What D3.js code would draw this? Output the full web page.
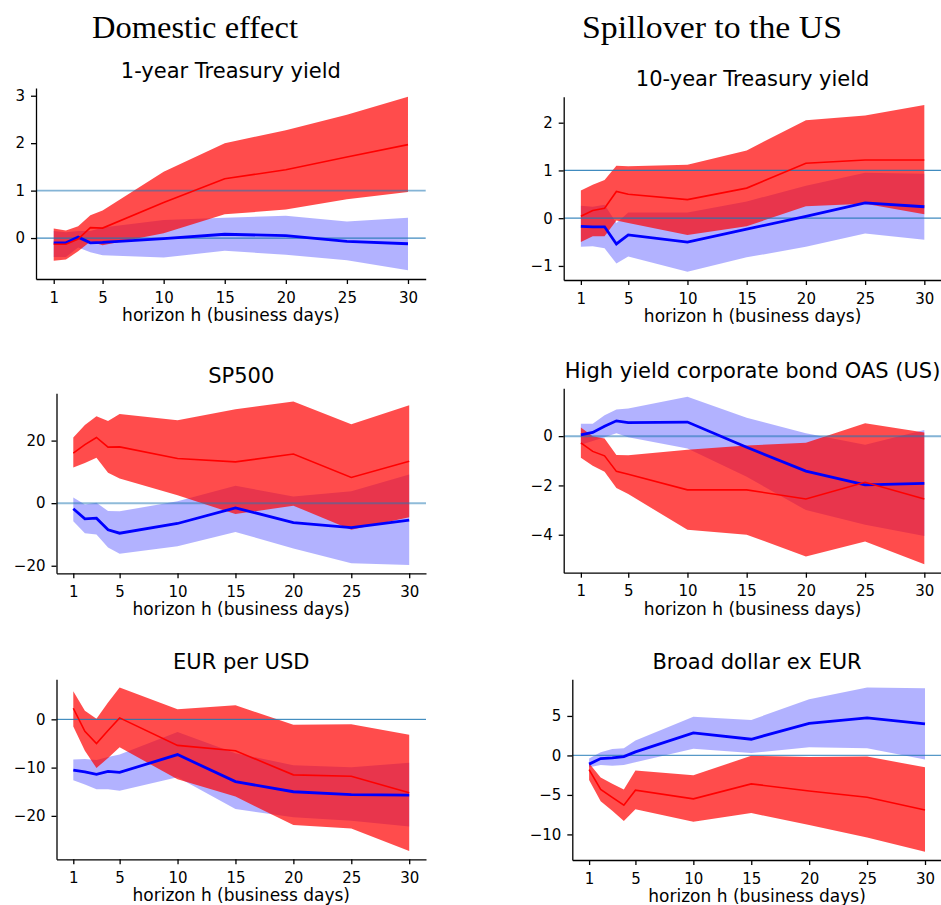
<!DOCTYPE html>
<meta charset="utf-8">
<style>
body { margin: 0; background: #fff; }
svg { display: block; }
.axis text { font-family: "DejaVu Sans", sans-serif; font-size: 15px; fill: #000; }
.axis path, .axis line { stroke: #000; stroke-width: 1.3; }
.ptitle { font-family: "DejaVu Sans", sans-serif; font-size: 21px; text-anchor: middle; }
.xlabel { font-family: "DejaVu Sans", sans-serif; font-size: 17px; text-anchor: middle; }
.coltitle { font-family: "Liberation Serif", serif; font-size: 31px; text-anchor: middle; }
</style>
<body>
<svg id="chart" width="941" height="905"></svg>
<script src="https://d3js.org/d3.v7.min.js"></script>
<script>
// horizons (business days) and x tick labels
var horizons = [1, 2, 3, 4, 5, 10, 15, 20, 25, 30];
var xTicks = [1, 5, 10, 15, 20, 25, 30];

var columnTitles = ["Domestic effect", "Spillover to the US"];
var panelTitles = ["1-year Treasury yield", "10-year Treasury yield", "SP500",
	"High yield corporate bond OAS (US)", "EUR per USD", "Broad dollar ex EUR"];

// 1-year Treasury yield
var y1RedMean = [-0.13, -0.13, -0.02, 0.22, 0.21, 0.75, 1.25, 1.44, 1.71, 1.97];
var y1RedHigh = [0.20, 0.16, 0.25, 0.48, 0.58, 1.40, 2.00, 2.27, 2.60, 2.98];
var y1RedLow = [-0.48, -0.45, -0.28, -0.07, -0.15, 0.10, 0.50, 0.60, 0.82, 0.97];
var y1BlueMean = [-0.10, -0.10, 0.02, -0.10, -0.09, -0.01, 0.08, 0.05, -0.07, -0.12];
var y1BlueHigh = [0.15, 0.12, 0.15, 0.15, 0.22, 0.38, 0.43, 0.47, 0.35, 0.43];
var y1BlueLow = [-0.40, -0.40, -0.20, -0.30, -0.36, -0.41, -0.27, -0.35, -0.47, -0.68];

// 10-year Treasury yield
var y10RedMean = [0.04, 0.16, 0.21, 0.56, 0.50, 0.39, 0.63, 1.15, 1.22, 1.22];
var y10RedHigh = [0.58, 0.70, 0.80, 1.10, 1.09, 1.12, 1.42, 2.05, 2.15, 2.37];
var y10RedLow = [-0.50, -0.38, -0.38, -0.05, -0.10, -0.35, -0.17, 0.25, 0.30, 0.08];
var y10BlueMean = [-0.17, -0.18, -0.18, -0.54, -0.35, -0.50, -0.23, 0.04, 0.32, 0.24];
var y10BlueHigh = [0.26, 0.24, 0.28, -0.10, 0.12, 0.12, 0.35, 0.68, 0.95, 0.93];
var y10BlueLow = [-0.60, -0.59, -0.63, -0.95, -0.80, -1.12, -0.82, -0.60, -0.32, -0.45];

// SP500
var spRedMean = [16.0, 18.7, 21.0, 17.9, 18.0, 14.3, 13.2, 15.7, 8.2, 13.4];
var spRedHigh = [21.0, 25.0, 27.8, 26.3, 28.5, 26.5, 30.0, 32.5, 25.2, 31.3];
var spRedLow = [11.4, 12.8, 14.5, 9.7, 7.9, 2.5, -3.5, -0.8, -8.5, -4.5];
var spBlueMean = [-1.8, -5.0, -4.8, -8.5, -9.6, -6.5, -1.5, -6.2, -7.8, -5.4];
var spBlueHigh = [1.8, -0.4, 0.1, -2.5, -2.6, 0.6, 5.6, 2.1, 3.8, 9.2];
var spBlueLow = [-5.8, -9.6, -10.0, -14.2, -16.2, -13.8, -9.2, -14.5, -19.2, -19.8];

// High yield corporate bond OAS (US)
var hyRedMean = [-0.27, -0.62, -0.80, -1.43, -1.55, -2.18, -2.18, -2.55, -1.87, -2.55];
var hyRedHigh = [0.35, 0.00, -0.10, -0.77, -0.78, -0.55, -0.38, -0.27, 0.52, 0.15];
var hyRedLow = [-0.88, -1.20, -1.45, -2.10, -2.35, -3.80, -4.00, -4.88, -4.27, -5.20];
var hyBlueMean = [0.05, 0.15, 0.40, 0.62, 0.55, 0.57, -0.45, -1.42, -1.98, -1.92];
var hyBlueHigh = [0.50, 0.50, 0.85, 1.08, 1.12, 1.60, 0.75, 0.12, -0.35, 0.25];
var hyBlueLow = [-0.35, -0.20, -0.05, 0.12, -0.05, -0.50, -1.65, -3.00, -3.60, -4.05];

// EUR per USD
var eurRedMean = [2.3, -2.5, -5.0, -2.3, 0.3, -5.4, -6.5, -11.5, -11.8, -15.2];
var eurRedHigh = [5.8, 1.8, 0.1, 3.5, 6.6, 2.1, 2.9, -1.1, -1.0, -3.2];
var eurRedLow = [-1.5, -6.5, -10.1, -8.0, -5.8, -12.4, -16.0, -21.9, -22.6, -27.3];
var eurBlueMean = [-10.5, -10.9, -11.4, -10.8, -11.0, -7.3, -12.9, -15.0, -15.6, -15.7];
var eurBlueHigh = [-8.3, -8.2, -8.4, -7.8, -7.3, -2.6, -7.0, -9.5, -9.9, -9.0];
var eurBlueLow = [-12.6, -13.5, -14.5, -14.5, -14.8, -12.0, -18.6, -20.3, -21.0, -22.2];

// Broad dollar ex EUR
var bdRedMean = [-1.8, -4.3, -5.3, -6.3, -4.4, -5.5, -3.6, -4.5, -5.3, -6.9];
var bdRedHigh = [-1.0, -2.8, -3.6, -4.3, -1.9, -2.5, -0.05, -0.2, -0.15, -1.5];
var bdRedLow = [-3.1, -5.8, -7.0, -8.3, -6.8, -8.4, -7.3, -8.8, -10.4, -12.2];
var bdBlueMean = [-1.1, -0.4, -0.3, -0.15, 0.45, 2.85, 2.05, 4.05, 4.75, 4.0];
var bdBlueHigh = [-0.4, 0.4, 0.8, 0.9, 1.9, 4.9, 4.5, 7.1, 8.6, 8.5];
var bdBlueLow = [-1.5, -1.2, -1.3, -1.2, -0.85, 0.85, 0.3, 1.05, 0.9, -0.5];

var yTicks = [[0, 1, 2, 3], [-1, 0, 1, 2], [-20, 0, 20], [-4, -2, 0], [-20, -10, 0], [-10, -5, 0, 5]];
var refLines = [[0, 1], [0, 1], [0], [0], [0], [0]];

var series = [
	[y1RedMean, y1RedLow, y1RedHigh, y1BlueMean, y1BlueLow, y1BlueHigh],
	[y10RedMean, y10RedLow, y10RedHigh, y10BlueMean, y10BlueLow, y10BlueHigh],
	[spRedMean, spRedLow, spRedHigh, spBlueMean, spBlueLow, spBlueHigh],
	[hyRedMean, hyRedLow, hyRedHigh, hyBlueMean, hyBlueLow, hyBlueHigh],
	[eurRedMean, eurRedLow, eurRedHigh, eurBlueMean, eurBlueLow, eurBlueHigh],
	[bdRedMean, bdRedLow, bdRedHigh, bdBlueMean, bdBlueLow, bdBlueHigh]
];

// axes boxes in pixels
var boxes = [
	{x0: 36, x1: 425.7, y0: 88, y1: 279},
	{x0: 563.7, x1: 941.5, y0: 96.7, y1: 280},
	{x0: 56.5, x1: 426, y0: 393.3, y1: 573.3},
	{x0: 563.7, x1: 941.5, y0: 388.3, y1: 572.7},
	{x0: 56.5, x1: 426, y0: 679.3, y1: 859.3},
	{x0: 572.3, x1: 941.8, y0: 679.3, y1: 860}
];
// reference line look per panel: [opacity, width]
var refStyle = [[[0.85, 1.2], [0.55, 1.6]], [[0.85, 1.2], [0.85, 1.2]], [[0.5, 2]], [[0.55, 2]], [[1, 1]], [[0.75, 1.3]]];

var svg = d3.select("#chart");

svg.append("text").attr("class", "coltitle").attr("x", 195).attr("y", 38)
	.attr("textLength", 206).attr("lengthAdjust", "spacingAndGlyphs").text(columnTitles[0]);
svg.append("text").attr("class", "coltitle").attr("x", 712).attr("y", 38)
	.attr("textLength", 260).attr("lengthAdjust", "spacingAndGlyphs").text(columnTitles[1]);

var fmt = d3.format("d");

series.forEach(function(s, i) {
	var b = boxes[i];
	var rows = horizons.map(function(h, k) {
		return {h: h, rm: s[0][k], rl: s[1][k], rh: s[2][k], bm: s[3][k], bl: s[4][k], bh: s[5][k]};
	});

	var lo = d3.min(s, function(a) { return d3.min(a); });
	var hi = d3.max(s, function(a) { return d3.max(a); });
	var pad = (hi - lo) * 0.05;
	var xPad = (d3.max(horizons) - d3.min(horizons)) * 0.05;

	var x = d3.scaleLinear().domain([d3.min(horizons) - xPad, d3.max(horizons) + xPad]).range([b.x0, b.x1]);
	var y = d3.scaleLinear().domain([lo - pad, hi + pad]).range([b.y1, b.y0]);

	var g = svg.append("g");

	var band = function(l, u) {
		return d3.area().x(function(d) { return x(d.h); })
			.y0(function(d) { return y(d[l]); })
			.y1(function(d) { return y(d[u]); });
	};
	var line = function(m) {
		return d3.line().x(function(d) { return x(d.h); }).y(function(d) { return y(d[m]); });
	};

	g.append("path").datum(rows).attr("d", band("bl", "bh")).attr("fill", "blue").attr("fill-opacity", 0.3);
	g.append("path").datum(rows).attr("d", band("rl", "rh")).attr("fill", "red").attr("fill-opacity", 0.7);

	refLines[i].forEach(function(v, j) {
		g.append("line")
			.attr("x1", b.x0).attr("x2", b.x1)
			.attr("y1", y(v)).attr("y2", y(v))
			.attr("stroke", "#1f77b4")
			.attr("stroke-opacity", refStyle[i][j][0])
			.attr("stroke-width", refStyle[i][j][1]);
	});

	g.append("path").datum(rows).attr("d", line("bm")).attr("fill", "none")
		.attr("stroke", "blue").attr("stroke-width", 2.8);
	g.append("path").datum(rows).attr("d", line("rm")).attr("fill", "none")
		.attr("stroke", "red").attr("stroke-width", 1.6);

	g.append("g").attr("class", "axis")
		.attr("transform", "translate(0," + b.y1 + ")")
		.call(d3.axisBottom(x).tickValues(xTicks).tickFormat(fmt).tickSize(5).tickPadding(8).tickSizeOuter(0));
	g.append("g").attr("class", "axis")
		.attr("transform", "translate(" + b.x0 + ",0)")
		.call(d3.axisLeft(y).tickValues(yTicks[i]).tickFormat(fmt).tickSize(5).tickPadding(6).tickSizeOuter(0));

	g.append("text").attr("class", "ptitle")
		.attr("x", (b.x0 + b.x1) / 2).attr("y", b.y0 - 10.5)
		.text(panelTitles[i]);
	g.append("text").attr("class", "xlabel")
		.attr("x", (b.x0 + b.x1) / 2).attr("y", b.y1 + 42)
		.text("horizon h (business days)");
});
</script>
</body>
